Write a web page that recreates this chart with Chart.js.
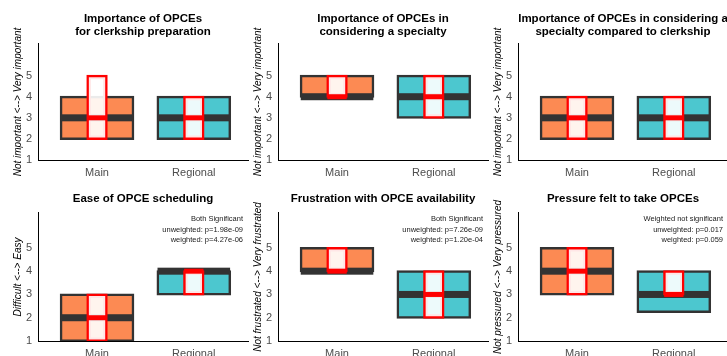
<!DOCTYPE html>
<html lang="en">
<head>
<meta charset="utf-8" />
<script src="https://cdn.jsdelivr.net/npm/chart.js@4.4.1/dist/chart.umd.min.js"></script>
<style>
  html, body { margin: 0; padding: 0; background: #fff; width: 727px; height: 356px; overflow: hidden; position: relative; }
  .cell { position: absolute; width: 250px; }
</style>
<title>OPCE survey</title>
</head>
<body>
<div class="cell" style="left:0px;top:0px"><canvas id="p0" width="250" height="180"></canvas></div>
<div class="cell" style="left:240px;top:0px"><canvas id="p1" width="250" height="180"></canvas></div>
<div class="cell" style="left:480px;top:0px"><canvas id="p2" width="250" height="180"></canvas></div>
<div class="cell" style="left:0px;top:180px"><canvas id="p3" width="250" height="181"></canvas></div>
<div class="cell" style="left:240px;top:180px"><canvas id="p4" width="250" height="181"></canvas></div>
<div class="cell" style="left:480px;top:180px"><canvas id="p5" width="250" height="181"></canvas></div>
<script>
// groups on the x axis
const groups = ["Main", "Regional"];
const yTicks = [1, 2, 3, 4, 5];

const titles = [
  ["Importance of OPCEs", "for clerkship preparation"],
  ["Importance of OPCEs in", "considering a specialty"],
  ["Importance of OPCEs in considering a", "specialty compared to clerkship"],
  "Ease of OPCE scheduling",
  "Frustration with OPCE availability",
  "Pressure felt to take OPCEs"
];
const yTitles = [
  "Not important <--> Very important",
  "Not important <--> Very important",
  "Not important <--> Very important",
  "Difficult <--> Easy",
  "Not frustrated <--> Very frustrated",
  "Not pressured <--> Very pressured"
];

// unweighted boxes (quartiles + median), one pair [Main, Regional] per panel
const boxLow  = [[2, 2], [4, 3], [2, 2], [1, 3], [4, 2], [3, 2.25]];
const boxMed  = [[3, 3], [4, 4], [3, 3], [2, 4], [4, 3], [4, 3]];
const boxHigh = [[4, 4], [5, 5], [4, 4], [3, 4], [5, 4], [5, 4]];

// weighted boxes (red)
const wLow  = [[2, 2], [4, 3], [2, 2], [1, 3], [4, 2], [3, 3]];
const wMed  = [[3, 3], [4, 4], [3, 3], [2, 4], [4, 3], [4, 3]];
const wHigh = [[5, 4], [5, 5], [4, 4], [3, 4], [5, 4], [5, 4]];

const notes = [
  null, null, null,
  ["Both Significant", "unweighted: p=1.98e-09", "weighted: p=4.27e-06"],
  ["Both Significant", "unweighted: p=7.26e-09", "weighted: p=1.20e-04"],
  ["Weighted not significant", "unweighted: p=0.017", "weighted: p=0.059"]
];

const groupColors = ["#FC8A53", "#4CC7CF"];
const FONT = "'Liberation Sans', Arial, sans-serif";

// median bars drawn on top of each box dataset
const medianPlugin = {
  id: "medians",
  afterDatasetDraw(chart, args) {
    const ds = chart.data.datasets[args.index];
    if (!ds.medians) return;
    const ctx = chart.ctx;
    const y = chart.scales.y;
    ctx.save();
    ctx.fillStyle = ds.medianColor;
    args.meta.data.forEach((el, i) => {
      const py = y.getPixelForValue(ds.medians[i]);
      ctx.fillRect(el.x - el.width / 2, py - ds.medianWidth / 2, el.width, ds.medianWidth);
    });
    ctx.restore();
  }
};

// p-value notes in the upper right corner
const notesPlugin = {
  id: "notes",
  afterDraw(chart, args, opts) {
    if (!opts.lines) return;
    const ctx = chart.ctx;
    const a = chart.chartArea;
    ctx.save();
    ctx.font = "7.5px " + FONT;
    ctx.fillStyle = "#1a1a1a";
    ctx.textAlign = "right";
    ctx.textBaseline = "middle";
    opts.lines.forEach((t, i) => ctx.fillText(t, a.right - 5, a.top + 6 + i * 10.5));
    ctx.restore();
  }
};

function makePanel(k) {
  const bottomRow = k >= 3;
  new Chart(document.getElementById("p" + k), {
    type: "bar",
    data: {
      datasets: [
        {
          label: "unweighted",
          data: groups.map((g, i) => ({ x: i + 1, y: [boxLow[k][i], boxHigh[k][i]] })),
          backgroundColor: groupColors,
          borderColor: "#333333",
          borderWidth: 2.5,
          borderSkipped: false,
          inflateAmount: 1,
          grouped: false,
          categoryPercentage: 1,
          barPercentage: 0.75,
          order: 2,
          medians: boxMed[k],
          medianColor: "#333333",
          medianWidth: 7
        },
        {
          label: "weighted",
          data: groups.map((g, i) => ({ x: i + 1, y: [wLow[k][i], wHigh[k][i]] })),
          backgroundColor: "rgba(255,255,255,0.9)",
          borderColor: "#ff0000",
          borderWidth: 2.5,
          borderSkipped: false,
          inflateAmount: 1,
          grouped: false,
          categoryPercentage: 1,
          barPercentage: 0.2,
          order: 1,
          medians: wMed[k],
          medianColor: "#ff0000",
          medianWidth: 5
        }
      ]
    },
    options: {
      responsive: false,
      animation: false,
      layout: { padding: { left: 0, right: 2, top: 0, bottom: 0 } },
      plugins: {
        legend: { display: false },
        tooltip: { enabled: false },
        title: {
          display: true,
          text: titles[k],
          fullSize: false,
          color: "#000",
          font: { family: FONT, size: 11.5, weight: "bold", lineHeight: 1.13 },
          padding: { top: 12, bottom: bottomRow ? 8 : 6 }
        },
        notes: { lines: notes[k] }
      },
      scales: {
        x: {
          type: "linear",
          offset: false,
          min: 0.39,
          max: 2.56,
          afterBuildTicks: (s) => { s.ticks = groups.map((g, i) => ({ value: i + 1 })); },
          afterFit: (s) => { s.height = 20; },
          grid: { display: false, drawTicks: true, tickLength: 4, tickColor: "#333" },
          border: { display: true, color: "#000", width: 1 },
          ticks: {
            callback: (v, i) => groups[i],
            color: "#4d4d4d",
            font: { family: FONT, size: 11 },
            padding: 2,
            autoSkip: false,
            maxRotation: 0
          }
        },
        y: {
          min: 1,
          max: 6.5,
          afterBuildTicks: (s) => { s.ticks = yTicks.map((v) => ({ value: v })); },
          afterFit: (s) => { s.width = 38; },
          grid: { display: false, drawTicks: true, tickLength: 4, tickColor: "#333" },
          border: { display: true, color: "#000", width: 1 },
          ticks: {
            color: "#4d4d4d",
            font: { family: FONT, size: 11 },
            padding: 2
          },
          title: {
            display: true,
            text: yTitles[k],
            color: "#000",
            font: { family: FONT, size: 10, style: "italic", lineHeight: 1.2 },
            padding: { top: 12, bottom: 0 }
          }
        }
      }
    },
    plugins: [medianPlugin, notesPlugin]
  });
}

for (let k = 0; k < 6; k++) makePanel(k);
</script>
</body>
</html>
